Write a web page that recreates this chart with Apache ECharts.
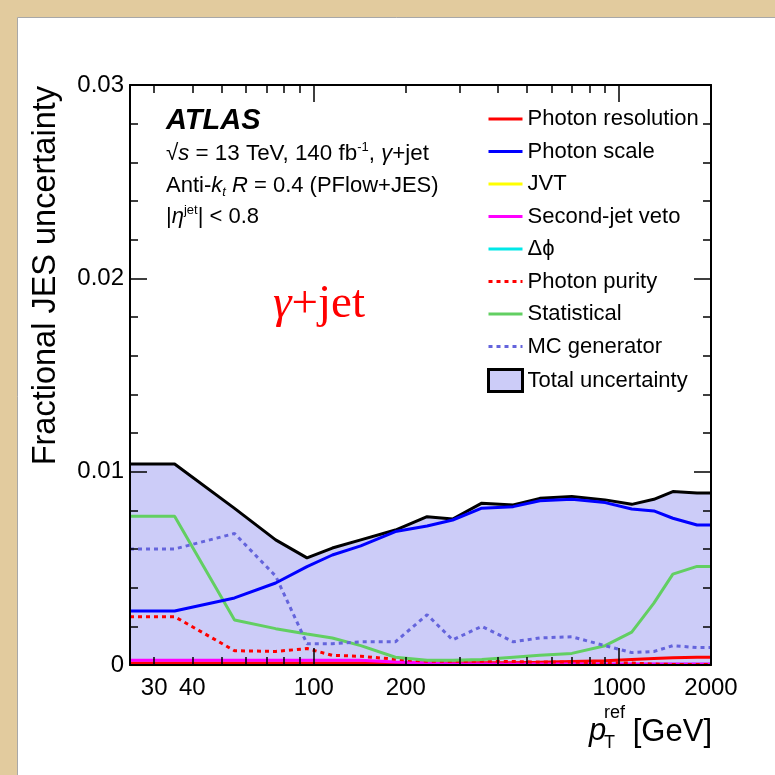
<!DOCTYPE html>
<html><head><meta charset="utf-8">
<script src="https://cdn.jsdelivr.net/npm/echarts@6/dist/echarts.min.js"></script>
<style>html,body{margin:0;padding:0;background:#e2cb9e}#c{width:775px;height:775px}</style>
</head><body><div id="c"></div>
<script>
// ---- data ----
const ptBins = [25, 35, 55, 75, 95, 115, 142.5, 185, 235, 285, 355, 450, 550, 700, 900, 1100, 1300, 1500, 1800, 2000];
const totalUncertainty = [0.0104, 0.0104, 0.0081, 0.00647, 0.00554, 0.00605, 0.00647, 0.00698, 0.00767, 0.00755, 0.00837, 0.00828, 0.00862, 0.00871, 0.00854, 0.00831, 0.00857, 0.00897, 0.0089, 0.0089];
const photonScale = [0.00279, 0.00279, 0.00347, 0.00424, 0.00509, 0.00569, 0.00616, 0.0069, 0.00719, 0.0075, 0.00811, 0.00819, 0.0085, 0.00857, 0.0084, 0.00807, 0.00797, 0.00759, 0.00724, 0.00724];
const statistical = [0.0077, 0.0077, 0.00233, 0.00188, 0.0016, 0.0014, 0.001, 0.0004, 0.00025, 0.00025, 0.00028, 0.0004, 0.0005, 0.0006, 0.001, 0.0017, 0.0032, 0.0047, 0.0051, 0.0051];
const mcGenerator = [0.006, 0.006, 0.0068, 0.0046, 0.0011, 0.0011, 0.0012, 0.0012, 0.0026, 0.0013, 0.002, 0.0012, 0.0014, 0.00146, 0.001, 0.00064, 0.0007, 0.001, 0.0009, 0.0009];
const photonPurity = [0.0025, 0.0025, 0.00074, 0.0007, 0.00085, 0.0005, 0.00045, 0.0003, 0.0002, 0.0002, 0.0002, 0.00018, 0.00015, 0.00015, 0.00012, 0.0001, 0.00005, 0.00003, 0.00003, 0.00003];
const photonResolution = [0.0001, 0.0001, 0.0001, 0.0001, 0.0001, 0.0001, 0.0001, 0.0001, 0.0001, 0.0001, 0.00011, 0.00012, 0.00014, 0.00018, 0.00022, 0.00028, 0.00033, 0.00037, 0.0004, 0.0004];
const secondJetVeto = [0.00025, 0.00025, 0.00025, 0.00025, 0.00025, 0.00025, 0.00025, 0.00015, 0.0001, 0.00005, 0.00005, 0.00005, 0.00005, 0.00005, 0.00005, 0.00005, 0.00005, 0.00005, 0.00005, 0.00005];
const jvt = [0.00001, 0.00001, 0.00001, 0.00001, 0.00001, 0.00001, 0.00001, 0.00001, 0.00001, 0.00001, 0.00001, 0.00001, 0.00001, 0.00001, 0.00001, 0.00001, 0.00001, 0.00001, 0.00001, 0.00001];
const deltaPhi = [0.00004, 0.00004, 0.00004, 0.00004, 0.00004, 0.00004, 0.00004, 0.00004, 0.00004, 0.00004, 0.00004, 0.00004, 0.00004, 0.00004, 0.00004, 0.00004, 0.00004, 0.00004, 0.00004, 0.00004];

const xLabelTicks = [30, 40, 100, 200, 1000, 2000];
const xMinorTicks = [30, 40, 50, 60, 70, 80, 90, 200, 300, 400, 500, 600, 700, 800, 900];
const xMajorTicks = [100, 1000];
const xMin = 25, xMax = 2000;
const yMin = 0, yMax = 0.03, yStep = 0.01;

// ---- chart ----
const FONT = 'Liberation Sans, Arial, Helvetica, sans-serif';
const FILL = '#ccccf8';
const pts = vals => ptBins.map((x, i) => [x, vals[i]]);

function xAx(pos, ticks, len, labels, line) {
  return {
    type: 'log', logBase: 10, min: xMin, max: xMax, position: pos, gridIndex: 0, z: 10,
    axisLine: { show: !!line, onZero: false, lineStyle: { color: '#000', width: 2 } },
    splitLine: { show: false }, minorTick: { show: false },
    axisTick: { show: true, inside: true, length: len, customValues: ticks, lineStyle: { color: '#000', width: 1.5 } },
    axisLabel: labels ? { show: true, customValues: xLabelTicks, fontSize: 24, fontFamily: FONT, color: '#000', margin: 11,
      formatter: v => String(Math.round(v)) } : { show: false }
  };
}
function yAx(pos, labels) {
  return {
    type: 'value', min: yMin, max: yMax, interval: yStep, position: pos, z: 10,
    axisLine: { show: true, onZero: false, lineStyle: { color: '#000', width: 2 } }, splitLine: { show: false },
    axisTick: { show: true, inside: true, length: 17, lineStyle: { color: '#000', width: 1.5 } },
    minorTick: { show: true, splitNumber: 5, length: 8, lineStyle: { color: '#000', width: 1.5 } },
    axisLabel: labels ? { show: true, fontSize: 24, fontFamily: FONT, color: '#000', margin: 6,
      formatter: v => (v === 0 ? '0' : v.toFixed(2)) } : { show: false }
  };
}
function lineSeries(name, vals, color, dotted, z) {
  return {
    name, type: 'line', data: pts(vals), symbol: 'none', showSymbol: false, z: z || 3,
    xAxisIndex: 0, yAxisIndex: 0, silent: true,
    itemStyle: { color },
    lineStyle: { color, width: 3, type: dotted ? [4, 4] : 'solid', cap: 'butt' }
  };
}

const chart = echarts.init(document.getElementById('c'), null, { renderer: 'canvas' });
const sub = { fontSize: 13, lineHeight: 13, verticalAlign: 'bottom', fontFamily: FONT, fontStyle: 'italic' };
const sup = { fontSize: 13, lineHeight: 13, verticalAlign: 'top', fontFamily: FONT };
const it = { fontSize: 22, lineHeight: 26, fontStyle: 'italic', fontFamily: FONT };
const SERIF = 'Liberation Serif, Times New Roman, serif';

chart.setOption({
  backgroundColor: '#e2cb9e',
  animation: false,
  grid: { left: 130, right: 64, top: 85, bottom: 110, show: false },
  xAxis: [
    xAx('bottom', xMinorTicks, 8, true, false),
    xAx('bottom', xMajorTicks, 17, false, true),
    xAx('top', xMinorTicks, 8, false, false),
    xAx('top', xMajorTicks, 17, false, true)
  ],
  yAxis: [yAx('left', true), yAx('right', false)],
  legend: {
    orient: 'vertical', left: 487, top: 108, itemWidth: 34, itemHeight: 22, itemGap: 10.5,
    selectedMode: false, padding: 0,
    textStyle: { fontSize: 22, fontFamily: FONT, color: '#000', lineHeight: 22 },
    itemStyle: { opacity: 0 },
    lineStyle: { width: 3 },
    data: [
      'Photon resolution', 'Photon scale', 'JVT', 'Second-jet veto', 'Δϕ', 'Photon purity', 'Statistical', 'MC generator',
      { name: 'Total uncertainty', icon: 'rect', itemStyle: { opacity: 1, color: FILL, borderColor: '#000', borderWidth: 3 } }
    ]
  },
  series: [
    {
      name: 'Total uncertainty', type: 'line', data: pts(totalUncertainty), symbol: 'none', z: 2, silent: true,
      itemStyle: { color: FILL },
      lineStyle: { color: '#000', width: 3 },
      areaStyle: { color: FILL, opacity: 1 }
    },
    lineSeries('JVT', jvt, '#ffff00'),
    lineSeries('Δϕ', deltaPhi, '#00e8e8'),
    lineSeries('Photon resolution', photonResolution, '#ff0000'),
    lineSeries('Second-jet veto', secondJetVeto, '#ff00ff'),
    lineSeries('Photon purity', photonPurity, '#ff0000', true),
    lineSeries('Statistical', statistical, '#62cf62'),
    lineSeries('MC generator', mcGenerator, '#6464dc', true),
    lineSeries('Photon scale', photonScale, '#0000ff')
  ],
  graphic: [
    { type: 'rect', z: -100, silent: true, shape: { x: 17.5, y: 17.5, width: 800, height: 800 }, style: { fill: '#fff', stroke: '#a8a8a8', lineWidth: 1 } },
    { type: 'text', z: 100, silent: true, style: { x: 166, y: 121, text: 'ATLAS', font: 'italic bold 29px ' + FONT, fill: '#000', verticalAlign: 'middle' } },
    { type: 'text', z: 100, silent: true, style: { x: 166, y: 154, text: '√{it|s} = 13 TeV, 140 fb{sup|-1}, {it|γ}+jet', fontSize: 22.4, lineHeight: 26, fontFamily: FONT, fill: '#000', verticalAlign: 'middle', rich: { it, sup } } },
    { type: 'text', z: 100, silent: true, style: { x: 166, y: 186, text: 'Anti-{it|k}{sub|t} {it|R} = 0.4 (PFlow+JES)', fontSize: 22, lineHeight: 26, fontFamily: FONT, fill: '#000', verticalAlign: 'middle', rich: { it, sub } } },
    { type: 'text', z: 100, silent: true, style: { x: 166, y: 217, text: '|{it|η}{sup|jet}| < 0.8', fontSize: 22, lineHeight: 26, fontFamily: FONT, fill: '#000', verticalAlign: 'middle', rich: { it, sup } } },
    { type: 'text', z: 100, silent: true, style: { x: 273, y: 305, text: '{g|γ}+jet', fontSize: 47, lineHeight: 50, fontFamily: SERIF, fill: '#ff0000', verticalAlign: 'middle',
      rich: { g: { fontSize: 47, lineHeight: 50, fontStyle: 'italic', fontFamily: SERIF, fill: '#ff0000' } } } },
    { type: 'text', z: 100, silent: true, rotation: Math.PI / 2, x: 46, y: 86, style: { x: 0, y: 0, text: 'Fractional JES uncertainty', font: '32.5px ' + FONT, fill: '#000', align: 'right', verticalAlign: 'middle' } },
    { type: 'text', z: 100, silent: true, style: { x: 712, y: 732, text: '[GeV]', font: '31px ' + FONT, fill: '#000', align: 'right', verticalAlign: 'middle' } },
    { type: 'text', z: 100, silent: true, style: { x: 589, y: 731, text: 'p', font: 'italic 31px ' + FONT, fill: '#000', verticalAlign: 'middle' } },
    { type: 'text', z: 100, silent: true, style: { x: 604, y: 713, text: 'ref', font: '18px ' + FONT, fill: '#000', verticalAlign: 'middle' } },
    { type: 'text', z: 100, silent: true, style: { x: 604, y: 743, text: 'T', font: '18px ' + FONT, fill: '#000', verticalAlign: 'middle' } }
  ]
});
</script></body></html>
